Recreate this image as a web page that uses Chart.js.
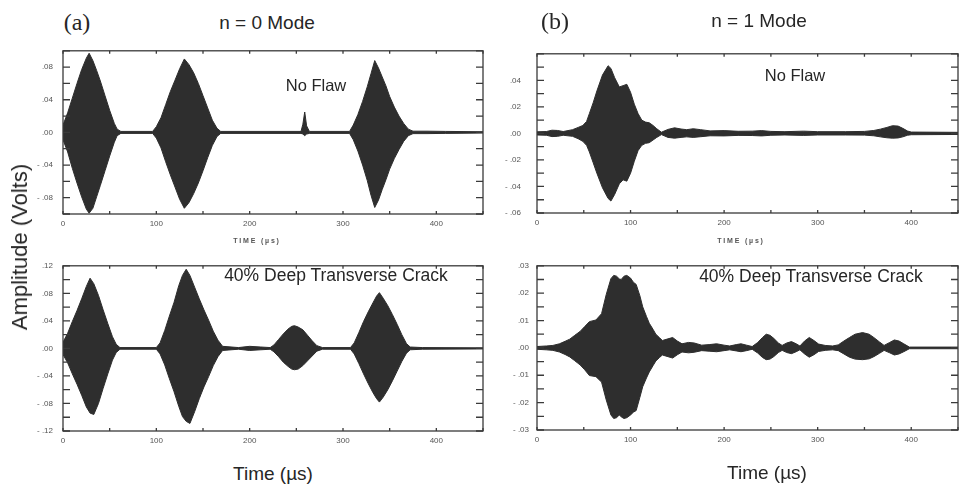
<!DOCTYPE html>
<html lang="en">
<head>
<meta charset="UTF-8">
<title>n = 0 / n = 1 Mode Signals</title>
<script src="https://cdn.jsdelivr.net/npm/chart.js@4"></script>
<style>
  body { margin: 0; width: 960px; height: 489px; background: #fff; position: relative; overflow: hidden;
         font-family: "Liberation Sans", Arial, sans-serif; color: #262626; }
  canvas { position: absolute; }
  .lbl { position: absolute; white-space: nowrap; transform: translate(-50%, -50%); }
  .tag { font-family: "Liberation Serif", "Times New Roman", serif; font-size: 24px; }
  .mode { font-size: 19px; }
  .note { font-size: 16.5px; }
  .crack { font-size: 17.5px; }
  .axis { font-size: 19px; }
  .small { font-size: 7px; font-weight: bold; letter-spacing: 1.8px; color: #555; }
  .ylab { font-size: 22px; transform: translate(-50%, -50%) rotate(-90deg); }
</style>
</head>
<body>
<canvas id="a1"></canvas>
<canvas id="b1"></canvas>
<canvas id="a2"></canvas>
<canvas id="b2"></canvas>

<div class="lbl tag" style="left:77px; top:22px;">(a)</div>
<div class="lbl mode" style="left:267px; top:23px;">n = 0 Mode</div>
<div class="lbl tag" style="left:555px; top:21px;">(b)</div>
<div class="lbl mode" style="left:759px; top:21px;">n = 1 Mode</div>
<div class="lbl note" style="left:316px; top:85px;">No Flaw</div>
<div class="lbl note" style="left:795px; top:75px;">No Flaw</div>
<div class="lbl crack" style="left:336px; top:275px;">40% Deep Transverse Crack</div>
<div class="lbl crack" style="left:811px; top:276px;">40% Deep Transverse Crack</div>
<div class="lbl small" style="left:257px; top:240px;">TIME (µs)</div>
<div class="lbl small" style="left:741px; top:240px;">TIME (µs)</div>
<div class="lbl axis" style="left:273px; top:474px;">Time (µs)</div>
<div class="lbl axis" style="left:767px; top:473px;">Time (µs)</div>
<div class="lbl ylab" style="left:20px; top:247px;">Amplitude (Volts)</div>

<script>
// signal envelopes: time (µs), upper and lower amplitude (V)

// n = 0 mode, no flaw
const a1Time  = [0, 5, 10, 15, 20, 25, 28, 32, 36, 40, 45, 50, 55, 58, 62, 96, 100, 105, 110, 115,
                 120, 125, 130, 135, 140, 145, 150, 155, 160, 165, 169, 255, 257, 259, 261, 264, 307, 311, 316, 321,
                 326, 330, 334, 338, 342, 346, 350, 355, 360, 365, 370, 375, 390, 410, 450];
const a1Upper = [.009, .024, .042, .060, .077, .091, .097, .088, .076, .063, .045, .027, .011, .004, .0012,
                 .0012, .007, .018, .034, .050, .064, .078, .090, .083, .073, .060, .045, .030, .015, .005,
                 .0012, .0012, .010, .025, .008, .0012, .0012, .009, .022, .038, .056, .072, .088, .079, .068,
                 .057, .044, .031, .020, .011, .004, .0015, .0015, .0012, .0008];
const a1Lower = [-.009, -.024, -.044, -.062, -.079, -.094, -.099, -.093, -.079, -.065, -.047, -.029, -.012, -.004, -.0012,
                 -.0012, -.007, -.019, -.036, -.052, -.067, -.082, -.093, -.086, -.075, -.062, -.047, -.031, -.016, -.005,
                 -.0012, -.0012, -.002, -.004, -.002, -.0012, -.0012, -.009, -.023, -.040, -.059, -.077, -.092, -.083, -.070,
                 -.058, -.045, -.032, -.021, -.011, -.004, -.0015, -.0015, -.0012, -.0008];

// n = 0 mode, 40% deep transverse crack
const a2Time  = [0, 5, 10, 15, 20, 25, 29, 33, 38, 43, 48, 53, 57, 61, 100, 104, 109, 114, 119, 124,
                 128, 132, 136, 141, 146, 151, 156, 161, 166, 171, 188, 200, 212, 222, 226, 231, 236, 241, 245, 248,
                 252, 257, 262, 267, 272, 278, 308, 312, 317, 322, 327, 332, 336, 339, 343, 348, 353, 358, 363, 368,
                 372, 385, 450];
const a2Upper = [.009, .022, .039, .055, .072, .090, .102, .094, .077, .056, .036, .017, .006, .0012, .0012,
                 .008, .026, .047, .067, .091, .106, .115, .106, .089, .072, .056, .041, .025, .012, .003,
                 .0012, .003, .002, .0012, .005, .013, .021, .028, .032, .033, .031, .027, .019, .011, .004,
                 .0012, .0012, .008, .023, .039, .053, .066, .076, .081, .073, .062, .049, .035, .020, .007,
                 .002, .0012, .0008];
const a2Lower = [-.009, -.021, -.037, -.052, -.068, -.085, -.094, -.096, -.080, -.058, -.037, -.017, -.006, -.0012, -.0012,
                 -.008, -.024, -.044, -.063, -.084, -.099, -.106, -.109, -.092, -.073, -.056, -.041, -.025, -.012, -.003,
                 -.0012, -.003, -.002, -.0012, -.005, -.012, -.020, -.026, -.030, -.031, -.030, -.025, -.018, -.011, -.004,
                 -.0012, -.0012, -.008, -.022, -.037, -.051, -.064, -.073, -.078, -.071, -.060, -.047, -.033, -.019, -.007,
                 -.002, -.0012, -.0008];

// n = 1 mode, no flaw
const b1Time  = [0, 10, 16, 22, 28, 38, 44, 49, 53, 56, 60, 64, 70, 76, 79, 83, 88, 92, 96, 100,
                 104, 108, 112, 116, 120, 124, 128, 133, 140, 147, 154, 160, 167, 175, 185, 200, 215, 230, 240, 250,
                 265, 285, 300, 330, 350, 360, 367, 374, 380, 386, 391, 396, 400, 450];
const b1Upper = [.0012, .0014, .0024, .0022, .0014, .0028, .0045, .006, .009, .015, .023, .032, .044, .051, .049,
                 .042, .035, .036, .037, .031, .022, .015, .010, .0085, .008, .006, .0035, .0009, .003, .0042,
                 .0033, .0028, .0035, .0028, .0019, .0021, .0016, .0017, .0021, .0015, .0013, .0017, .0013, .0013, .0015,
                 .0022, .0032, .0045, .0058, .0055, .0038, .0018, .001, .0008];
const b1Lower = [-.0012, -.0014, -.0024, -.0022, -.0014, -.0022, -.004, -.006, -.009, -.014, -.022, -.030, -.041, -.049, -.051,
                 -.046, -.038, -.035, -.036, -.030, -.021, -.013, -.009, -.0075, -.007, -.005, -.003, -.0009, -.003, -.0036,
                 -.003, -.0026, -.003, -.0025, -.0018, -.0019, -.0015, -.0016, -.0019, -.0014, -.0012, -.0015, -.0012, -.0012, -.0013,
                 -.0018, -.0026, -.0033, -.0036, -.0034, -.0026, -.0014, -.001, -.0008];

// n = 1 mode, 40% deep transverse crack
const b2Time  = [0, 10, 17, 24, 30, 35, 40, 46, 51, 56, 63, 69, 74, 79, 82, 85, 88, 90, 93, 96,
                 100, 103, 106, 110, 113, 117, 120, 124, 127, 131, 134, 140, 145, 150, 155, 162, 168, 176, 184, 192,
                 200, 206, 213, 218, 224, 230, 236, 241, 245, 249, 253, 258, 262, 267, 272, 277, 281, 286, 291, 296,
                 301, 308, 316, 322, 328, 334, 340, 348, 355, 360, 366, 371, 377, 382, 387, 392, 398, 450];
const b2Upper = [.0005, .0007, .0009, .0015, .0024, .0032, .0045, .006, .0078, .0096, .0102, .0125, .0195, .0253, .0265,
                 .0262, .0252, .025, .0262, .0265, .0255, .024, .0232, .019, .015, .0115, .009, .0068, .005, .0037,
                 .0027, .0033, .0038, .0025, .0015, .002, .0018, .001, .0012, .0015, .001, .0007, .0012, .0015, .001,
                 .0005, .002, .0038, .005, .0046, .0035, .0018, .0009, .0018, .0023, .0015, .0007, .0025, .0038, .0027,
                 .0014, .0009, .0007, .0011, .0025, .0038, .005, .0056, .005, .0038, .0022, .0009, .002, .0029, .0025,
                 .0015, .0003, .0003];
const b2Lower = [-.0005, -.0007, -.0009, -.0015, -.0024, -.0033, -.0046, -.0062, -.008, -.0101, -.0105, -.0125, -.019, -.0245, -.0258,
                 -.0255, -.0245, -.0252, -.0258, -.0255, -.0245, -.0235, -.0229, -.018, -.0142, -.011, -.0088, -.0065, -.0048, -.0035,
                 -.0026, -.0032, -.0037, -.0025, -.0015, -.0018, -.0016, -.001, -.0012, -.0014, -.001, -.0007, -.0011, -.0014, -.001,
                 -.0005, -.0019, -.0035, -.0043, -.0041, -.0032, -.0017, -.0009, -.0017, -.0021, -.0014, -.0007, -.0022, -.0034, -.0025,
                 -.0013, -.0009, -.0007, -.001, -.0022, -.0034, -.0041, -.0043, -.004, -.0032, -.002, -.0009, -.0018, -.0026, -.0022,
                 -.0014, -.0003, -.0003];

// tick labels
const xLabels  = [0, 100, 200, 300, 400];
const a1YLabels = [0.08, 0.04, 0, -0.04, -0.08];
const a2YLabels = [0.12, 0.08, 0.04, 0, -0.04, -0.08, -0.12];
const b1YLabels = [0.04, 0.02, 0, -0.02, -0.04, -0.06];
const b2YLabels = [0.03, 0.02, 0.01, 0, -0.01, -0.02, -0.03];

const INK = '#2e2e2e';

// ".08", "- .04" style labels
function fmtY(v) {
  const s = Math.abs(v).toFixed(2).replace(/^0/, '');
  return v < -1e-9 ? '- ' + s : s;
}

// box frame with inward ticks on all four sides
const frameTicks = {
  id: 'frameTicks',
  afterDatasetsDraw(chart) {
    const { ctx, chartArea: a, scales: { x, y } } = chart;
    ctx.save();
    ctx.strokeStyle = '#3a3a3a';
    ctx.lineWidth = 1.3;
    ctx.strokeRect(a.left, a.top, a.width, a.height);
    ctx.beginPath();
    x.ticks.forEach(t => {
      const px = x.getPixelForValue(t.value);
      ctx.moveTo(px, a.bottom); ctx.lineTo(px, a.bottom - 3);
      ctx.moveTo(px, a.top); ctx.lineTo(px, a.top + 3);
    });
    y.ticks.forEach(t => {
      const py = y.getPixelForValue(t.value);
      ctx.moveTo(a.left, py); ctx.lineTo(a.left + 7, py);
      ctx.moveTo(a.right, py); ctx.lineTo(a.right - 7, py);
    });
    ctx.stroke();
    ctx.restore();
  }
};

function makePanel(id, box, time, upper, lower, yMax, yStep, yLabels, labelPad) {
  const cv = document.getElementById(id);
  const yAxisW = 50, xAxisH = 30, padTop = 6, padRight = 6;
  cv.width = box.right - box.left + yAxisW + padRight;
  cv.height = box.bottom - box.top + padTop + xAxisH;
  cv.style.left = (box.left - yAxisW) + 'px';
  cv.style.top = (box.top - padTop) + 'px';
  const pts = arr => time.map((t, i) => ({ x: t, y: arr[i] }));

  return new Chart(cv, {
    type: 'line',
    data: {
      datasets: [
        { data: pts(upper), fill: '+1', backgroundColor: INK, borderColor: INK },
        { data: pts(lower), fill: false, borderColor: INK }
      ]
    },
    options: {
      responsive: false,
      animation: false,
      layout: { padding: { top: padTop, right: padRight, left: 0, bottom: 0 } },
      plugins: { legend: { display: false }, tooltip: { enabled: false } },
      elements: { point: { radius: 0 }, line: { tension: 0, borderWidth: 1 } },
      scales: {
        x: {
          type: 'linear', min: 0, max: 450,
          grid: { display: false, drawTicks: false },
          border: { display: false },
          ticks: {
            stepSize: 50, autoSkip: false, maxRotation: 0, padding: 5,
            color: '#555', font: { family: 'Liberation Sans', size: 8 },
            callback: v => xLabels.includes(v) ? String(v) : ''
          },
          afterFit: s => { s.height = xAxisH; }
        },
        y: {
          min: -yMax, max: yMax,
          grid: { display: false, drawTicks: false },
          border: { display: false },
          ticks: {
            stepSize: yStep, autoSkip: false, padding: labelPad,
            color: '#555', font: { family: 'Liberation Sans', size: 8 },
            callback: v => yLabels.some(l => Math.abs(l - v) < 1e-6) ? fmtY(v) : ''
          },
          afterFit: s => { s.width = yAxisW; }
        }
      }
    },
    plugins: [frameTicks]
  });
}

makePanel('a1', { left: 63, top: 42, right: 483, bottom: 214 }, a1Time, a1Upper, a1Lower, 0.1, 0.02, a1YLabels, 10);
makePanel('b1', { left: 537, top: 39, right: 958, bottom: 213 }, b1Time, b1Upper, b1Lower, 0.06, 0.01, b1YLabels, 16);
makePanel('a2', { left: 63, top: 257, right: 483, bottom: 431 }, a2Time, a2Upper, a2Lower, 0.12, 0.02, a2YLabels, 10);
makePanel('b2', { left: 537, top: 259, right: 958, bottom: 430 }, b2Time, b2Upper, b2Lower, 0.03, 0.005, b2YLabels, 8);
</script>
</body>
</html>
